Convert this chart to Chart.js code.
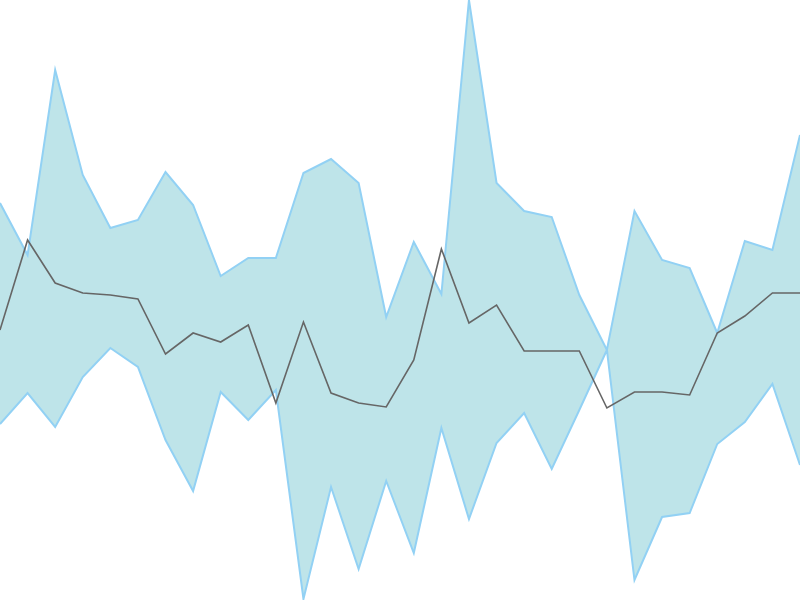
<!DOCTYPE html>
<html>
<head>
<meta charset="utf-8">
<title>Band chart</title>
<script src="https://cdn.jsdelivr.net/npm/chart.js@4.4.1/dist/chart.umd.min.js"></script>
<style>
	html, body { margin: 0; padding: 0; background: #fff; }
	#chart { display: block; }
</style>
</head>
<body>
<canvas id="chart" width="800" height="600"></canvas>
<script>
// values
var labels = [];
for (var i = 1; i <= 30; i++) labels.push(String(i));

var upperValues = [397, 345, 530, 425, 372, 380, 428, 395, 324, 342, 342, 427, 441, 417, 283,
	358, 306, 600, 417, 389, 383, 305, 250, 389, 340, 332, 267, 359, 350, 465];
var lowerValues = [176, 207, 173, 223, 252, 233, 160, 109, 208, 180, 210, 1, 113, 31, 119,
	47, 172, 81, 157, 187, 131, 190, 250, 20, 83, 87, 156, 178, 216, 135];
var middleValues = [270, 360, 317, 307, 305, 301, 246, 267, 258, 275, 197, 278, 207, 197, 193,
	240, 351, 277, 295, 249, 249, 249, 192, 208, 208, 205, 267, 284, 307, 307];

var ctx = document.getElementById("chart");

// band: upper fills down to lower; lower drawn after the fill so its line stays whole
var chart = new Chart(ctx, {
	type: "line",
	data: {
		labels: labels,
		datasets: [
			{
				label: "middle",
				data: middleValues,
				borderColor: "#666666",
				borderWidth: 1.6,
				pointRadius: 0,
				fill: false,
				tension: 0,
				order: 0
			},
			{
				label: "upper",
				data: upperValues,
				borderColor: "#92d1f4",
				backgroundColor: "#bee4e9",
				borderWidth: 2,
				pointRadius: 0,
				fill: "+1",
				tension: 0,
				order: 2
			},
			{
				label: "lower",
				data: lowerValues,
				borderColor: "#92d1f4",
				borderWidth: 2,
				pointRadius: 0,
				fill: false,
				tension: 0,
				order: 1
			}
		]
	},
	options: {
		responsive: false,
		animation: false,
		devicePixelRatio: 1,
		layout: { padding: 0 },
		plugins: {
			legend: { display: false },
			tooltip: { enabled: false },
			title: { display: false }
		},
		scales: {
			x: { display: false, offset: false },
			y: { display: false, min: 0, max: 600 }
		}
	}
});
</script>
</body>
</html>
